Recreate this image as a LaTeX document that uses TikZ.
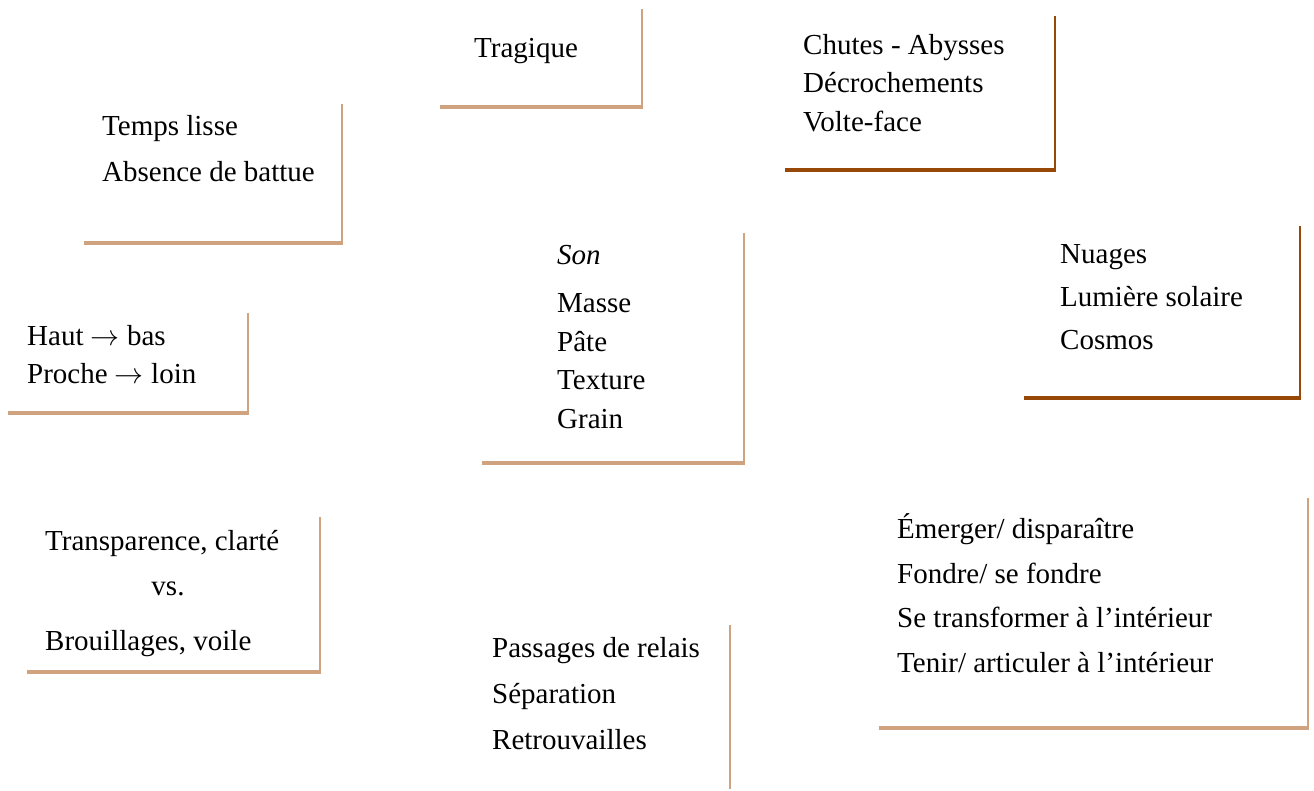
\RequirePackage{fix-cm}
\documentclass[tikz,border=0pt]{standalone}
\usepackage{fontspec}
\setmainfont{Liberation Serif}
\definecolor{tanline}{RGB}{208,163,128}
\definecolor{darkline}{RGB}{152,72,6}
\tikzset{
  txt/.style={anchor=base west, inner sep=0pt, font=\fontsize{29}{35}\selectfont},
  vline/.style={line width=2pt, draw=#1},
  hline/.style={line width=4.5pt, draw=#1},
}
\newcommand{\frameL}[5]{% color, right x, top y, bottom y, left x
  \draw[hline=#1] (#5,#4) -- (#2+1,#4);
  \draw[vline=#1] (#2,#3) -- (#2,#4);
}
\newcommand{\arr}{ $\rightarrow$ }
\begin{document}
\begin{tikzpicture}[x=1pt,y=-1pt]
\useasboundingbox (0,0) rectangle (1314,791);
\fill[white] (0,0) rectangle (1314,791);

% Tragique
\node[txt] (trag) at (474,58) {Tragique};
\frameL{tanline}{642}{9}{107}{440}

% Chutes
\node[txt] (ch1) at (803,55) {Chutes - Abysses};
\node[txt] (ch2) at (803,93) {Décrochements};
\node[txt] (ch3) at (803,132) {Volte-face};
\frameL{darkline}{1055}{16}{170}{785}

% Temps lisse
\node[txt] (tl1) at (102,136) {Temps lisse};
\node[txt] (tl2) at (102,182) {Absence de battue};
\frameL{tanline}{342}{104}{243}{84}

% Son
\node[txt] (s0) at (557,265) {\itshape Son};
\node[txt] (s1) at (557,313) {Masse};
\node[txt] (s2) at (557,352) {Pâte};
\node[txt] (s3) at (557,389) {Texture};
\node[txt] (s4) at (557,428) {Grain};
\frameL{tanline}{744}{233}{463}{482}

% Nuages
\node[txt] (n1) at (1060,264) {Nuages};
\node[txt] (n2) at (1060,307) {Lumière solaire};
\node[txt] (n3) at (1060,350) {Cosmos};
\frameL{darkline}{1300}{226}{398}{1024}

% Haut
\node[txt] (h1) at (27,345) {Haut\arr bas};
\node[txt] (h2) at (27,383) {Proche\arr loin};
\frameL{tanline}{248}{313}{413}{8}

% Transparence
\node[txt] (t1) at (45,550) {Transparence, clarté};
\node[txt, anchor=base] (t2) at (168,595) {vs.};
\node[txt] (t3) at (45,650) {Brouillages, voile};
\frameL{tanline}{320}{517}{672}{27}

% Passages
\node[txt] (p1) at (492,657) {Passages de relais};
\node[txt] (p2) at (492,703) {Séparation};
\node[txt] (p3) at (492,749) {Retrouvailles};
\draw[vline=tanline] (730,625) -- (730,789);

% Emerger
\node[txt] (e1) at (897,538) {Émerger/ disparaître};
\node[txt] (e2) at (897,583) {Fondre/ se fondre};
\node[txt] (e3) at (897,627) {Se transformer à l’intérieur};
\node[txt] (e4) at (897,672) {Tenir/ articuler à l’intérieur};
\frameL{tanline}{1308}{498}{728}{879}
\end{tikzpicture}
\end{document}
